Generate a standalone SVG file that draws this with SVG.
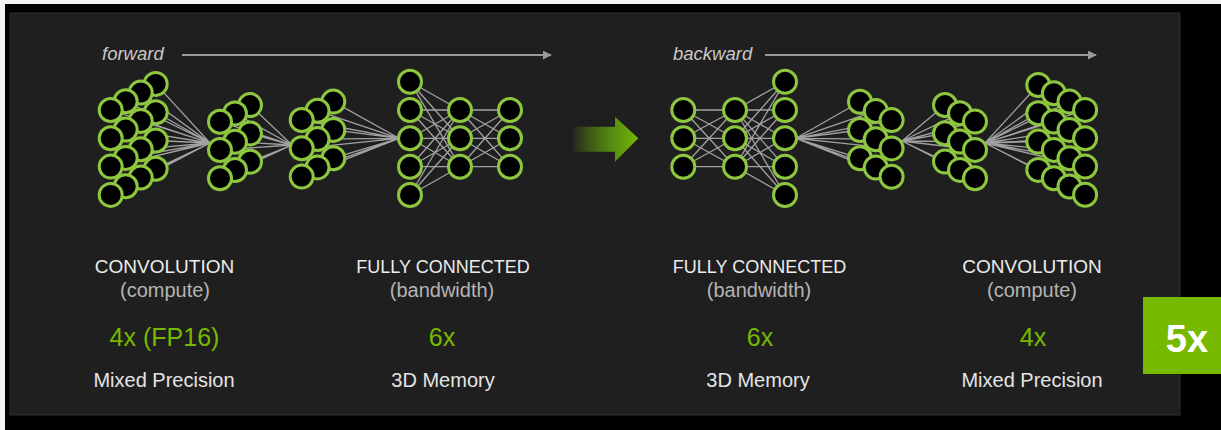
<svg xmlns="http://www.w3.org/2000/svg" width="1221" height="430" viewBox="0 0 1221 430">
<defs>
<style>
.n{fill:#000;stroke:#8dc63f;stroke-width:3}
.e{stroke:#b8b8b8;stroke-width:1.3;stroke-opacity:0.85;fill:none}
.t{font-family:"Liberation Sans",Arial,sans-serif;text-anchor:middle}
.h{font-size:19px;fill:#ececec}
.s{font-size:20px;fill:#b4b4b4}
.g{font-size:25px;fill:#76b900}
.m{font-size:20px;fill:#e4e4e4}
.dir{font-family:"Liberation Sans",Arial,sans-serif;font-style:italic;font-size:18.5px;fill:#c8c8c8}
.ax{stroke:#9a9a9a;stroke-width:2;fill:none}
</style>
<marker id="ah" viewBox="0 0 10 10" refX="9" refY="5" markerUnits="userSpaceOnUse" markerWidth="9" markerHeight="9" orient="auto">
<path d="M0,0 L10,5 L0,10 z" fill="#9a9a9a"/>
</marker>
<linearGradient id="ga" x1="573" y1="0" x2="638" y2="0" gradientUnits="userSpaceOnUse">
<stop offset="0" stop-color="#76b900" stop-opacity="0.05"/>
<stop offset="0.6" stop-color="#5f9e12" stop-opacity="0.85"/>
<stop offset="1" stop-color="#76b900"/>
</linearGradient>
</defs>

<rect x="0" y="0" width="1221" height="430" fill="#000"/>
<rect x="0" y="0" width="1221" height="4" fill="#f4f4f4"/>
<rect x="0" y="0" width="5" height="430" fill="#f4f4f4"/>
<rect x="10" y="13" width="1170" height="402" fill="#201f1f" stroke="#2e2e2e" stroke-width="1"/>

<g id="direction-labels">
<text class="dir" x="102" y="60">forward</text>
<line class="ax" x1="182" y1="55" x2="551" y2="55" marker-end="url(#ah)"/>
<text class="dir" x="673" y="60">backward</text>
<line class="ax" x1="765" y1="55" x2="1096" y2="55" marker-end="url(#ah)"/>
</g>

<g id="connectors">
<path class="e" d="M110.7,110L210,143M110.7,138.3L210,143M110.7,166.6L210,143M110.7,194.9L210,143M125.7,101.3L210,143M125.7,129.6L210,143M125.7,157.9L210,143M125.7,186.2L210,143M140.7,92.6L210,143M140.7,120.9L210,143M140.7,149.2L210,143M140.7,177.5L210,143M155.7,83.9L210,143M155.7,112.2L210,143M155.7,140.5L210,143M155.7,168.8L210,143"/>
<path class="e" d="M220,121.7L292,145M220,150L292,145M220,178.3L292,145M235,113.4L292,145M235,141.7L292,145M235,170L292,145M250,105.1L292,145M250,133.4L292,145M250,161.7L292,145"/>
<path class="e" d="M301.7,120L399,138.3M301.7,148.3L399,138.3M301.7,176.6L399,138.3M317.5,110.8L399,138.3M317.5,139.1L399,138.3M317.5,167.4L399,138.3M333.3,101.6L399,138.3M333.3,129.9L399,138.3M333.3,158.2L399,138.3"/>
<path class="e" d="M410,81.7L460,110M410,81.7L460,138.3M410,81.7L460,166.7M410,110L460,110M410,110L460,138.3M410,110L460,166.7M410,138.3L460,110M410,138.3L460,138.3M410,138.3L460,166.7M410,166.7L460,110M410,166.7L460,138.3M410,166.7L460,166.7M410,195L460,110M410,195L460,138.3M410,195L460,166.7"/>
<path class="e" d="M460,110L510,110M460,110L510,138.3M460,110L510,166.7M460,138.3L510,110M460,138.3L510,138.3M460,138.3L510,166.7M460,166.7L510,110M460,166.7L510,138.3M460,166.7L510,166.7"/>
<path class="e" d="M683.3,110L735,110M683.3,110L735,138.3M683.3,110L735,166.7M683.3,138.3L735,110M683.3,138.3L735,138.3M683.3,138.3L735,166.7M683.3,166.7L735,110M683.3,166.7L735,138.3M683.3,166.7L735,166.7"/>
<path class="e" d="M735,110L785,81.7M735,110L785,110M735,110L785,138.3M735,110L785,166.7M735,110L785,195M735,138.3L785,81.7M735,138.3L785,110M735,138.3L785,138.3M735,138.3L785,166.7M735,138.3L785,195M735,166.7L785,81.7M735,166.7L785,110M735,166.7L785,138.3M735,166.7L785,166.7M735,166.7L785,195"/>
<path class="e" d="M796,138.3L860,101.7M796,138.3L860,130M796,138.3L860,158.3M796,138.3L875.8,110.9M796,138.3L875.8,139.2M796,138.3L875.8,167.5M796,138.3L891.6,120.1M796,138.3L891.6,148.4M796,138.3L891.6,176.7"/>
<path class="e" d="M902,141L945,105M902,141L945,133.3M902,141L945,161.6M902,141L960,113.3M902,141L960,141.6M902,141L960,169.9M902,141L975,121.6M902,141L975,149.9M902,141L975,178.2"/>
<path class="e" d="M985,143L1038.3,85M985,143L1038.3,113.3M985,143L1038.3,141.6M985,143L1038.3,169.9M985,143L1053.9,93.3M985,143L1053.9,121.6M985,143L1053.9,149.9M985,143L1053.9,178.2M985,143L1069.5,101.6M985,143L1069.5,129.9M985,143L1069.5,158.2M985,143L1069.5,186.5M985,143L1085.1,109.9M985,143L1085.1,138.2M985,143L1085.1,166.5M985,143L1085.1,194.8"/>
</g>

<g id="fwd-conv1">
<circle class="n" cx="155.7" cy="83.9" r="11.5"/><circle class="n" cx="155.7" cy="112.2" r="11.5"/><circle class="n" cx="155.7" cy="140.5" r="11.5"/><circle class="n" cx="155.7" cy="168.8" r="11.5"/>
<circle class="n" cx="140.7" cy="92.6" r="11.5"/><circle class="n" cx="140.7" cy="120.9" r="11.5"/><circle class="n" cx="140.7" cy="149.2" r="11.5"/><circle class="n" cx="140.7" cy="177.5" r="11.5"/>
<circle class="n" cx="125.7" cy="101.3" r="11.5"/><circle class="n" cx="125.7" cy="129.6" r="11.5"/><circle class="n" cx="125.7" cy="157.9" r="11.5"/><circle class="n" cx="125.7" cy="186.2" r="11.5"/>
<circle class="n" cx="110.7" cy="110" r="11.5"/><circle class="n" cx="110.7" cy="138.3" r="11.5"/><circle class="n" cx="110.7" cy="166.6" r="11.5"/><circle class="n" cx="110.7" cy="194.9" r="11.5"/>
</g>
<g id="fwd-conv2">
<circle class="n" cx="250" cy="105.1" r="11.5"/><circle class="n" cx="250" cy="133.4" r="11.5"/><circle class="n" cx="250" cy="161.7" r="11.5"/>
<circle class="n" cx="235" cy="113.4" r="11.5"/><circle class="n" cx="235" cy="141.7" r="11.5"/><circle class="n" cx="235" cy="170" r="11.5"/>
<circle class="n" cx="220" cy="121.7" r="11.5"/><circle class="n" cx="220" cy="150" r="11.5"/><circle class="n" cx="220" cy="178.3" r="11.5"/>
</g>
<g id="fwd-conv3">
<circle class="n" cx="333.3" cy="101.6" r="11.5"/><circle class="n" cx="333.3" cy="129.9" r="11.5"/><circle class="n" cx="333.3" cy="158.2" r="11.5"/>
<circle class="n" cx="317.5" cy="110.8" r="11.5"/><circle class="n" cx="317.5" cy="139.1" r="11.5"/><circle class="n" cx="317.5" cy="167.4" r="11.5"/>
<circle class="n" cx="301.7" cy="120" r="11.5"/><circle class="n" cx="301.7" cy="148.3" r="11.5"/><circle class="n" cx="301.7" cy="176.6" r="11.5"/>
</g>
<g id="fwd-fc1">
<circle class="n" cx="410" cy="81.7" r="11.5"/><circle class="n" cx="410" cy="110" r="11.5"/><circle class="n" cx="410" cy="138.3" r="11.5"/><circle class="n" cx="410" cy="166.7" r="11.5"/><circle class="n" cx="410" cy="195" r="11.5"/>
</g>
<g id="fwd-fc2">
<circle class="n" cx="460" cy="110" r="11.5"/><circle class="n" cx="460" cy="138.3" r="11.5"/><circle class="n" cx="460" cy="166.7" r="11.5"/>
</g>
<g id="fwd-fc3">
<circle class="n" cx="510" cy="110" r="11.5"/><circle class="n" cx="510" cy="138.3" r="11.5"/><circle class="n" cx="510" cy="166.7" r="11.5"/>
</g>

<g id="transition-arrow">
<polygon points="573,126.7 615,126.7 615,116.7 638.3,138.3 615,161.7 615,151.7 573,151.7" fill="url(#ga)"/>
</g>

<g id="bwd-fc1">
<circle class="n" cx="683.3" cy="110" r="11.5"/><circle class="n" cx="683.3" cy="138.3" r="11.5"/><circle class="n" cx="683.3" cy="166.7" r="11.5"/>
</g>
<g id="bwd-fc2">
<circle class="n" cx="735" cy="110" r="11.5"/><circle class="n" cx="735" cy="138.3" r="11.5"/><circle class="n" cx="735" cy="166.7" r="11.5"/>
</g>
<g id="bwd-fc3">
<circle class="n" cx="785" cy="81.7" r="11.5"/><circle class="n" cx="785" cy="110" r="11.5"/><circle class="n" cx="785" cy="138.3" r="11.5"/><circle class="n" cx="785" cy="166.7" r="11.5"/><circle class="n" cx="785" cy="195" r="11.5"/>
</g>
<g id="bwd-conv1">
<circle class="n" cx="860" cy="101.7" r="11.5"/><circle class="n" cx="860" cy="130" r="11.5"/><circle class="n" cx="860" cy="158.3" r="11.5"/>
<circle class="n" cx="875.8" cy="110.9" r="11.5"/><circle class="n" cx="875.8" cy="139.2" r="11.5"/><circle class="n" cx="875.8" cy="167.5" r="11.5"/>
<circle class="n" cx="891.6" cy="120.1" r="11.5"/><circle class="n" cx="891.6" cy="148.4" r="11.5"/><circle class="n" cx="891.6" cy="176.7" r="11.5"/>
</g>
<g id="bwd-conv2">
<circle class="n" cx="945" cy="105" r="11.5"/><circle class="n" cx="945" cy="133.3" r="11.5"/><circle class="n" cx="945" cy="161.6" r="11.5"/>
<circle class="n" cx="960" cy="113.3" r="11.5"/><circle class="n" cx="960" cy="141.6" r="11.5"/><circle class="n" cx="960" cy="169.9" r="11.5"/>
<circle class="n" cx="975" cy="121.6" r="11.5"/><circle class="n" cx="975" cy="149.9" r="11.5"/><circle class="n" cx="975" cy="178.2" r="11.5"/>
</g>
<g id="bwd-conv3">
<circle class="n" cx="1038.3" cy="85" r="11.5"/><circle class="n" cx="1038.3" cy="113.3" r="11.5"/><circle class="n" cx="1038.3" cy="141.6" r="11.5"/><circle class="n" cx="1038.3" cy="169.9" r="11.5"/>
<circle class="n" cx="1053.9" cy="93.3" r="11.5"/><circle class="n" cx="1053.9" cy="121.6" r="11.5"/><circle class="n" cx="1053.9" cy="149.9" r="11.5"/><circle class="n" cx="1053.9" cy="178.2" r="11.5"/>
<circle class="n" cx="1069.5" cy="101.6" r="11.5"/><circle class="n" cx="1069.5" cy="129.9" r="11.5"/><circle class="n" cx="1069.5" cy="158.2" r="11.5"/><circle class="n" cx="1069.5" cy="186.5" r="11.5"/>
<circle class="n" cx="1085.1" cy="109.9" r="11.5"/><circle class="n" cx="1085.1" cy="138.2" r="11.5"/><circle class="n" cx="1085.1" cy="166.5" r="11.5"/><circle class="n" cx="1085.1" cy="194.8" r="11.5"/>
</g>

<g id="label-fwd-conv">
<text class="t h" x="164.5" y="273">CONVOLUTION</text>
<text class="t s" x="165" y="297">(compute)</text>
<text class="t g" x="164.5" y="346">4x (FP16)</text>
<text class="t m" x="164" y="387">Mixed Precision</text>
</g>
<g id="label-fwd-fc">
<text class="t h" x="443" y="273" style="font-size:18px">FULLY CONNECTED</text>
<text class="t s" x="442" y="297">(bandwidth)</text>
<text class="t g" x="442" y="346">6x</text>
<text class="t m" x="443" y="387">3D Memory</text>
</g>
<g id="label-bwd-fc">
<text class="t h" x="759.5" y="273" style="font-size:18px">FULLY CONNECTED</text>
<text class="t s" x="759" y="297">(bandwidth)</text>
<text class="t g" x="760" y="346">6x</text>
<text class="t m" x="758" y="387">3D Memory</text>
</g>
<g id="label-bwd-conv">
<text class="t h" x="1032" y="273">CONVOLUTION</text>
<text class="t s" x="1032" y="297">(compute)</text>
<text class="t g" x="1033" y="346">4x</text>
<text class="t m" x="1032" y="387">Mixed Precision</text>
</g>

<g id="badge-5x">
<rect x="1143" y="297" width="78" height="77" fill="#76b900"/>
<text class="t" x="1187" y="352" style="font-size:38px;font-weight:bold;fill:#ffffff">5x</text>
</g>
</svg>
